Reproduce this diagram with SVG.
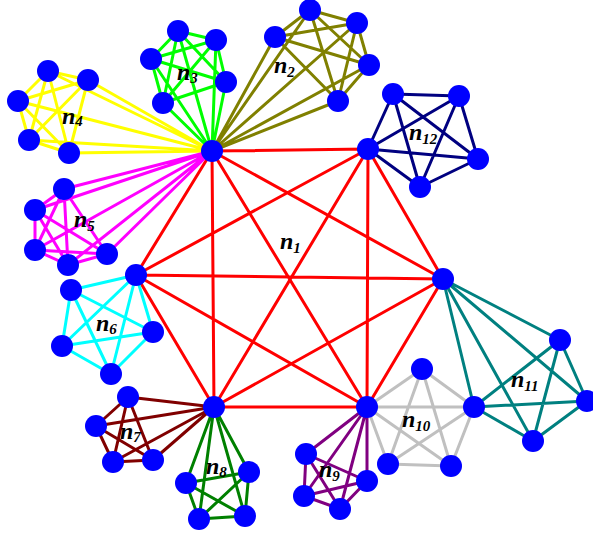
<svg xmlns="http://www.w3.org/2000/svg" width="593" height="536" viewBox="0 0 593 536">
<style>
.e{fill:none;stroke-width:3;stroke-linecap:round}
.nd circle{fill:#0000FF}
.lbl{font-family:"Liberation Serif","Times New Roman",serif;font-style:italic;font-weight:bold;font-size:24px;fill:#000}
.sub{font-size:15px}
</style>
<rect width="593" height="536" fill="#fff"/>
<g id="connectors">
<path id="e-n1" class="e" stroke="#FF0000" d="M212 151L368 149M212 151L443 279M212 151L367 407M212 151L214 407M212 151L136 275M368 149L443 279M368 149L367 407M368 149L214 407M368 149L136 275M443 279L367 407M443 279L214 407M443 279L136 275M367 407L214 407M367 407L136 275M214 407L136 275"/>
<path id="e-n2" class="e" stroke="#808000" d="M212 151L310 10M212 151L357 23M212 151L275 37M212 151L369 65M212 151L338 101M310 10L357 23M310 10L275 37M310 10L369 65M310 10L338 101M357 23L275 37M357 23L369 65M357 23L338 101M275 37L369 65M275 37L338 101M369 65L338 101"/>
<path id="e-n3" class="e" stroke="#00FF00" d="M212 151L178 31M212 151L216 40M212 151L151 59M212 151L226 82M212 151L163 103M178 31L216 40M178 31L151 59M178 31L226 82M178 31L163 103M216 40L151 59M216 40L226 82M216 40L163 103M151 59L226 82M151 59L163 103M226 82L163 103"/>
<path id="e-n4" class="e" stroke="#FFFF00" d="M212 151L48 71M212 151L88 80M212 151L18 101M212 151L29 140M212 151L69 153M48 71L88 80M48 71L18 101M48 71L29 140M48 71L69 153M88 80L18 101M88 80L29 140M88 80L69 153M18 101L29 140M18 101L69 153M29 140L69 153"/>
<path id="e-n5" class="e" stroke="#FF00FF" d="M212 151L64 189M212 151L35 210M212 151L35 250M212 151L68 265M212 151L107 254M64 189L35 210M64 189L35 250M64 189L68 265M64 189L107 254M35 210L35 250M35 210L68 265M35 210L107 254M35 250L68 265M35 250L107 254M68 265L107 254"/>
<path id="e-n6" class="e" stroke="#00FFFF" d="M136 275L71 290M136 275L153 332M136 275L62 346M136 275L111 374M71 290L153 332M71 290L62 346M71 290L111 374M153 332L62 346M153 332L111 374M62 346L111 374"/>
<path id="e-n7" class="e" stroke="#800000" d="M214 407L128 397M214 407L96 426M214 407L113 462M214 407L153 460M128 397L96 426M128 397L113 462M128 397L153 460M96 426L113 462M96 426L153 460M113 462L153 460"/>
<path id="e-n8" class="e" stroke="#008000" d="M214 407L249 472M214 407L186 483M214 407L245 516M214 407L199 519M249 472L186 483M249 472L245 516M249 472L199 519M186 483L245 516M186 483L199 519M245 516L199 519"/>
<path id="e-n9" class="e" stroke="#800080" d="M367 407L306 454M367 407L367 481M367 407L304 496M367 407L340 509M306 454L367 481M306 454L304 496M306 454L340 509M367 481L304 496M367 481L340 509M304 496L340 509"/>
<path id="e-n10" class="e" stroke="#C0C0C0" d="M367 407L422 369M367 407L474 407M367 407L388 464M367 407L451 466M422 369L474 407M422 369L388 464M422 369L451 466M474 407L388 464M474 407L451 466M388 464L451 466"/>
<path id="e-n11" class="e" stroke="#008080" d="M443 279L560 340M443 279L587 401M443 279L533 441M443 279L474 407M560 340L587 401M560 340L533 441M560 340L474 407M587 401L533 441M587 401L474 407M533 441L474 407"/>
<path id="e-n12" class="e" stroke="#000080" d="M368 149L393 94M368 149L459 96M368 149L478 159M368 149L420 187M393 94L459 96M393 94L478 159M393 94L420 187M459 96L478 159M459 96L420 187M478 159L420 187"/>
</g>
<g id="nodes" class="nd">
<g id="v-a"><circle cx="212" cy="151" r="11"/></g>
<g id="v-b"><circle cx="368" cy="149" r="11"/></g>
<g id="v-c"><circle cx="443" cy="279" r="11"/></g>
<g id="v-d"><circle cx="367" cy="407" r="11"/></g>
<g id="v-e"><circle cx="214" cy="407" r="11"/></g>
<g id="v-f"><circle cx="136" cy="275" r="11"/></g>
<g id="v-n2-1"><circle cx="310" cy="10" r="11"/></g>
<g id="v-n2-2"><circle cx="357" cy="23" r="11"/></g>
<g id="v-n2-3"><circle cx="275" cy="37" r="11"/></g>
<g id="v-n2-4"><circle cx="369" cy="65" r="11"/></g>
<g id="v-n2-5"><circle cx="338" cy="101" r="11"/></g>
<g id="v-n3-1"><circle cx="178" cy="31" r="11"/></g>
<g id="v-n3-2"><circle cx="216" cy="40" r="11"/></g>
<g id="v-n3-3"><circle cx="151" cy="59" r="11"/></g>
<g id="v-n3-4"><circle cx="226" cy="82" r="11"/></g>
<g id="v-n3-5"><circle cx="163" cy="103" r="11"/></g>
<g id="v-n4-1"><circle cx="48" cy="71" r="11"/></g>
<g id="v-n4-2"><circle cx="88" cy="80" r="11"/></g>
<g id="v-n4-3"><circle cx="18" cy="101" r="11"/></g>
<g id="v-n4-4"><circle cx="29" cy="140" r="11"/></g>
<g id="v-n4-5"><circle cx="69" cy="153" r="11"/></g>
<g id="v-n5-1"><circle cx="64" cy="189" r="11"/></g>
<g id="v-n5-2"><circle cx="35" cy="210" r="11"/></g>
<g id="v-n5-3"><circle cx="35" cy="250" r="11"/></g>
<g id="v-n5-4"><circle cx="68" cy="265" r="11"/></g>
<g id="v-n5-5"><circle cx="107" cy="254" r="11"/></g>
<g id="v-n6-1"><circle cx="71" cy="290" r="11"/></g>
<g id="v-n6-2"><circle cx="153" cy="332" r="11"/></g>
<g id="v-n6-3"><circle cx="62" cy="346" r="11"/></g>
<g id="v-n6-4"><circle cx="111" cy="374" r="11"/></g>
<g id="v-n7-1"><circle cx="128" cy="397" r="11"/></g>
<g id="v-n7-2"><circle cx="96" cy="426" r="11"/></g>
<g id="v-n7-3"><circle cx="113" cy="462" r="11"/></g>
<g id="v-n7-4"><circle cx="153" cy="460" r="11"/></g>
<g id="v-n8-1"><circle cx="249" cy="472" r="11"/></g>
<g id="v-n8-2"><circle cx="186" cy="483" r="11"/></g>
<g id="v-n8-3"><circle cx="245" cy="516" r="11"/></g>
<g id="v-n8-4"><circle cx="199" cy="519" r="11"/></g>
<g id="v-n9-1"><circle cx="306" cy="454" r="11"/></g>
<g id="v-n9-2"><circle cx="367" cy="481" r="11"/></g>
<g id="v-n9-3"><circle cx="304" cy="496" r="11"/></g>
<g id="v-n9-4"><circle cx="340" cy="509" r="11"/></g>
<g id="v-n10-1"><circle cx="422" cy="369" r="11"/></g>
<g id="v-n10-2"><circle cx="474" cy="407" r="11"/></g>
<g id="v-n10-3"><circle cx="388" cy="464" r="11"/></g>
<g id="v-n10-4"><circle cx="451" cy="466" r="11"/></g>
<g id="v-n11-1"><circle cx="560" cy="340" r="11"/></g>
<g id="v-n11-2"><circle cx="587" cy="401" r="11"/></g>
<g id="v-n11-3"><circle cx="533" cy="441" r="11"/></g>
<g id="v-n12-1"><circle cx="393" cy="94" r="11"/></g>
<g id="v-n12-2"><circle cx="459" cy="96" r="11"/></g>
<g id="v-n12-3"><circle cx="478" cy="159" r="11"/></g>
<g id="v-n12-4"><circle cx="420" cy="187" r="11"/></g>
</g>
<g id="labels" class="lbl">
<text x="280" y="249">n<tspan class="sub" dy="4">1</tspan></text>
<text x="274" y="73">n<tspan class="sub" dy="4">2</tspan></text>
<text x="177" y="80">n<tspan class="sub" dy="3">3</tspan></text>
<text x="62" y="124">n<tspan class="sub" dy="2">4</tspan></text>
<text x="74" y="227">n<tspan class="sub" dy="4">5</tspan></text>
<text x="96" y="331">n<tspan class="sub" dy="3">6</tspan></text>
<text x="120" y="439">n<tspan class="sub" dy="3">7</tspan></text>
<text x="206" y="474">n<tspan class="sub" dy="3">8</tspan></text>
<text x="319" y="477">n<tspan class="sub" dy="4">9</tspan></text>
<text x="402" y="427">n<tspan class="sub" dy="4">10</tspan></text>
<text x="511" y="387">n<tspan class="sub" dy="4">11</tspan></text>
<text x="409" y="140">n<tspan class="sub" dy="4">12</tspan></text>
</g>
</svg>
